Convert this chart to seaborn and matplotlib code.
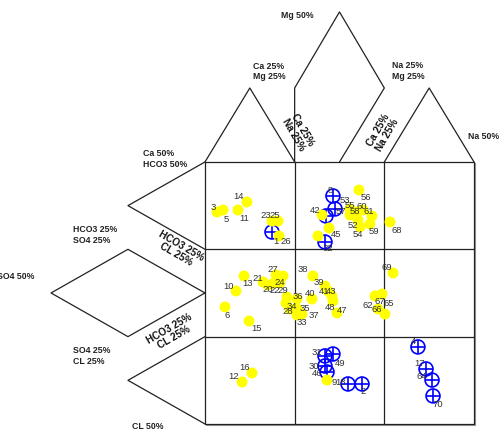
import matplotlib
matplotlib.use("Agg")
import matplotlib.pyplot as plt
import pandas as pd
import seaborn as sns

# expanded Durov plot, positions in diagram units (one grid cell = 1, y grows downward)
yellow_ids = ["3", "5", "14", "11", "23", "25", "26", "42", "45", "",
              "56", "53", "55", "58", "60", "61", "52", "54", "59", "68",
              "10", "13", "6", "15", "21", "27", "24", "20", "22", "29",
              "", "34", "28", "36", "40", "35", "37", "33", "38", "39",
              "41", "43", "48", "47", "69", "62", "67", "65", "66", "16",
              "12", "9"]
yellow_x = [0.134, 0.201, 0.468, 0.368, 0.747, 0.814, 0.825, 1.305, 1.383, 1.260,
            1.717, 1.617, 1.617, 1.695, 1.762, 1.862, 1.706, 1.729, 1.840, 2.063,
            0.346, 0.435, 0.223, 0.491, 0.647, 0.792, 0.870, 0.703, 0.770, 0.836,
            0.914, 0.903, 0.948, 1.026, 1.193, 1.026, 1.082, 1.026, 1.204, 1.338,
            1.372, 1.416, 1.427, 1.472, 2.097, 1.896, 1.974, 2.007, 1.929, 0.524,
            0.413, 1.361]
yellow_y = [0.573, 0.550, 0.458, 0.550, 0.676, 0.676, 0.847, 0.607, 0.756, 0.847,
            0.321, 0.538, 0.607, 0.573, 0.550, 0.618, 0.664, 0.744, 0.710, 0.687,
            1.477, 1.305, 1.660, 1.821, 1.374, 1.294, 1.305, 1.408, 1.386, 1.386,
            1.546, 1.615, 1.683, 1.569, 1.569, 1.683, 1.741, 1.752, 1.305, 1.420,
            1.477, 1.534, 1.592, 1.729, 1.271, 1.534, 1.511, 1.741, 1.683, 2.416,
            2.519, 2.497]

blue_ids = ["1", "8", "57", "", "32", "31", "49", "30", "46", "18", "2", "4", "17", "64", "70"]
blue_x = [0.747, 1.427, 1.450, 1.349, 1.338, 1.338, 1.427, 1.338, 1.361, 1.595,
          1.751, 2.375, 2.465, 2.532, 2.543]
blue_y = [0.802, 0.389, 0.538, 0.618, 0.916, 2.221, 2.199, 2.336, 2.405, 2.542,
          2.542, 2.118, 2.370, 2.497, 2.679]

# label offsets in pixels (right, down)
yellow_dx = [-4, 3, -8, 6, -6, -3, 7, -7, 7, 0,
             7, -5, 0, -2, -1, -3, -5, -2, 4, 7,
             -7, 4, 2, 8, -5, -3, -3, 0, 1, 3,
             0, 6, -2, 1, -2, 8, 12, 5, -10, -6,
             -4, -1, -3, 5, -6, -7, -2, 4, -1, -7,
             -8, 7]
yellow_dy = [-6, 8, -6, 7, -7, -7, 5, -5, 6, 0,
             6, -9, -10, -2, -5, -5, 5, 7, 7, 8,
             -5, 7, 8, 6, -4, -6, 6, 4, 6, 6,
             0, 2, 2, -3, -6, -1, 0, 7, -7, -4,
             0, -5, 5, -3, -6, 9, 7, -12, 0, -6,
             -6, 1]
blue_dx = [4, -3, 6, 0, 3, -8, 7, -11, -10, -7, 1, -5, -6, -10, 5]
blue_dy = [8, -6, 2, 0, 6, -4, 8, 0, 0, -2, 7, -6, -6, -5, 8]

yellow_df = pd.DataFrame({"x": yellow_x, "y": yellow_y, "id": yellow_ids,
                          "dx": yellow_dx, "dy": yellow_dy})
blue_df = pd.DataFrame({"x": blue_x, "y": blue_y, "id": blue_ids,
                        "dx": blue_dx, "dy": blue_dy})

sns.set_style("white")
plt.rcParams["font.family"] = ["Liberation Sans", "DejaVu Sans"]

fig = plt.figure(figsize=(5, 4.31), dpi=100)
ax = fig.add_axes([0, 0, 1, 1])
ax.set_xlim(-2.286, 3.290)
ax.set_ylim(3.069, -1.866)
ax.axis("off")

lc = "#222222"
lw = 0.9

# outline of the triangles and diamonds
h = 0.847   # triangle height above the grid
hl = 0.859  # triangle depth left of the grid
shapes = [
    [(0, 0), (0.5, -h), (1, 0)],
    [(1, 0), (1.0, -h), (1.5, -1.718), (2, -h), (1.5, 0)],
    [(2, 0), (2.5, -h), (3, 0)],
    [(0, 0), (-hl, 0.5), (0, 1)],
    [(0, 1.5), (-hl, 1), (-1.717, 1.5), (-hl, 2), (0, 1.5)],
    [(0, 2), (-hl, 2.5), (0, 3)],
]
for s in shapes:
    xs, ys = zip(*s)
    ax.plot(xs, ys, color=lc, lw=lw)

# square grid
for k in range(4):
    ax.plot([k, k], [0, 3], color=lc, lw=lw)
    ax.plot([0, 3], [k, k], color=lc, lw=lw)
ax.plot([0.01, 3.01], [3.012, 3.012], color="#999999", lw=0.8, zorder=0)
ax.plot([3.011, 3.011], [0.01, 3.01], color="#999999", lw=0.8, zorder=0)

# samples
sns.scatterplot(data=blue_df, x="x", y="y", marker="o", s=100, facecolor="none",
                edgecolor="#0000ff", linewidth=1.2, ax=ax, zorder=3)
sns.scatterplot(data=blue_df, x="x", y="y", marker="+", s=100, color="#0000ff",
                linewidth=1.2, ax=ax, zorder=3)
sns.scatterplot(data=yellow_df, x="x", y="y", marker="o", s=62, color="#ffff00",
                edgecolor="none", ax=ax, zorder=4)

for df in (yellow_df, blue_df):
    for _, r in df.iterrows():
        if r["id"]:
            ax.annotate(r["id"], (r["x"], r["y"]), xytext=(r["dx"], -r["dy"]),
                        textcoords="offset pixels", ha="center", va="center",
                        fontsize=6.8, color="#333333", zorder=5)

# axis captions
tk = dict(fontsize=6.3, fontweight="bold", color="#222222", linespacing=1.25)
ax.text(0.848, -1.683, "Mg 50%", ha="left", va="center", **tk)
ax.text(0.535, -1.048, "Ca 25%\nMg 25%", ha="left", va="center", **tk)
ax.text(2.085, -1.053, "Na 25%\nMg 25%", ha="left", va="center", **tk)
ax.text(2.933, -0.298, "Na 50%", ha="left", va="center", **tk)
ax.text(-0.691, -0.046, "Ca 50%\nHCO3 50%", ha="left", va="center", **tk)
ax.text(-1.472, 0.824, "HCO3 25%\nSO4 25%", ha="left", va="center", **tk)
ax.text(-2.320, 1.305, "SO4 50%", ha="left", va="center", **tk)
ax.text(-1.472, 2.210, "SO4 25%\nCL 25%", ha="left", va="center", **tk)
ax.text(-0.814, 3.023, "CL 50%", ha="left", va="center", **tk)

rk = dict(fontsize=7.2, fontweight="bold", color="#111111", linespacing=1.0,
          ha="center", va="center", rotation_mode="anchor")
ax.text(1.037, -0.355, "Ca 25%\nNa 25%", rotation=-60, **rk)
ax.text(1.985, -0.344, "Ca 25%\nNa 25%", rotation=60, **rk)
ax.text(-0.290, 0.996, "HCO3 25%\nCL 25%", rotation=-30, **rk)
ax.text(-0.368, 1.947, "HCO3 25%\nCL 25%", rotation=30, **rk)

fig.savefig("out.png", dpi=100)
